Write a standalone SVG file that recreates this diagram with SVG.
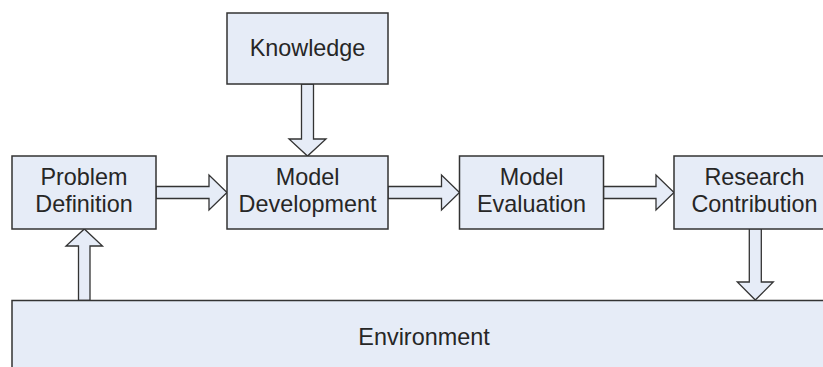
<svg xmlns="http://www.w3.org/2000/svg" width="823" height="367" viewBox="0 0 823 367">
  <style>
    .box { fill: #e6ecf7; stroke: #333333; stroke-width: 1.5; }
    .arrow { fill: #e6ecf7; stroke: #333333; stroke-width: 1.3; stroke-linejoin: miter; }
    .label { font-family: "Liberation Sans", Arial, sans-serif; font-size: 23.4px; fill: #262626; text-anchor: middle; }
  </style>
  <rect width="823" height="367" fill="#ffffff"/>

  <g id="connectors">
    <!-- Knowledge -> Model Development -->
    <polygon class="arrow" points="301.5,84 301.5,139 289,139 307.5,156 326,139 313.5,139 313.5,84"/>
    <!-- Problem Definition -> Model Development -->
    <polygon class="arrow" points="156,186.5 209,186.5 209,175 227,192.5 209,210 209,198.5 156,198.5"/>
    <!-- Model Development -> Model Evaluation -->
    <polygon class="arrow" points="388,186.5 441.5,186.5 441.5,175 459.5,192.5 441.5,210 441.5,198.5 388,198.5"/>
    <!-- Model Evaluation -> Research Contribution -->
    <polygon class="arrow" points="603.5,186.5 656,186.5 656,175 674,192.5 656,210 656,198.5 603.5,198.5"/>
    <!-- Research Contribution -> Environment -->
    <polygon class="arrow" points="749.3,228.5 749.3,282 737.3,282 755.3,300 773.3,282 761.3,282 761.3,228.5"/>
    <!-- Environment -> Problem Definition -->
    <polygon class="arrow" points="78.5,300.5 78.5,246 66,246 84.3,229 102.5,246 90,246 90,300.5"/>
  </g>

  <g id="knowledge">
    <rect class="box" x="227" y="13" width="161" height="71"/>
    <text class="label" x="307.5" y="55.5">Knowledge</text>
  </g>

  <g id="problem-definition">
    <rect class="box" x="12" y="156" width="144" height="73"/>
    <text class="label" x="84" y="185">Problem</text>
    <text class="label" x="84" y="211.5">Definition</text>
  </g>

  <g id="model-development">
    <rect class="box" x="227" y="156" width="161" height="73"/>
    <text class="label" x="307.5" y="185">Model</text>
    <text class="label" x="307.5" y="211.5">Development</text>
  </g>

  <g id="model-evaluation">
    <rect class="box" x="459.5" y="156" width="144" height="73"/>
    <text class="label" x="531.5" y="185">Model</text>
    <text class="label" x="531.5" y="211.5">Evaluation</text>
  </g>

  <g id="research-contribution">
    <rect class="box" x="674" y="156" width="161" height="73"/>
    <text class="label" x="754.5" y="185">Research</text>
    <text class="label" x="754.5" y="211.5">Contribution</text>
  </g>

  <g id="environment">
    <rect class="box" x="12" y="300.5" width="830" height="80"/>
    <text class="label" x="424" y="345">Environment</text>
  </g>
</svg>
